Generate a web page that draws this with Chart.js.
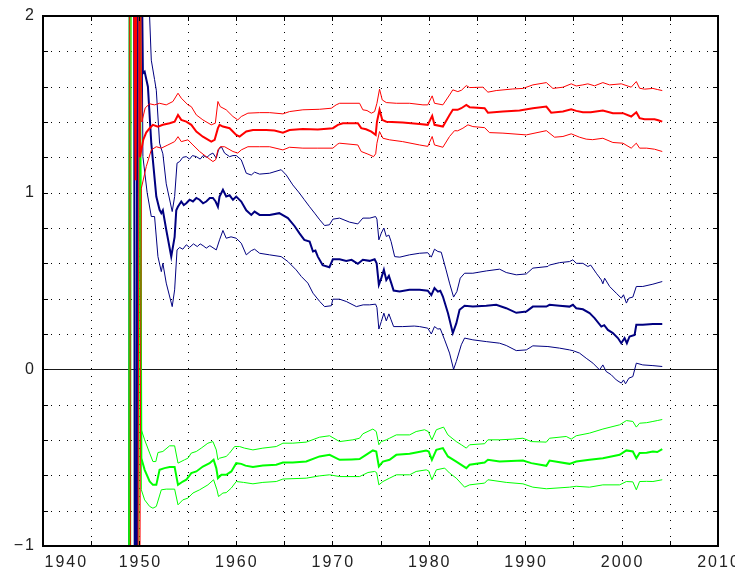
<!DOCTYPE html>
<html>
<head>
<meta charset="utf-8">
<script src="https://cdn.jsdelivr.net/npm/chart.js@4.4.0/dist/chart.umd.min.js"></script>
<style>
  html, body { margin: 0; padding: 0; background: #fff; }
  #wrap { width: 735px; height: 571px; }
</style>
</head>
<body>
<div id="wrap"><canvas id="c" width="735" height="571"></canvas></div>
<script>
// ---- tick labels ----
const xTickValues = [1940, 1950, 1960, 1970, 1980, 1990, 2000, 2010];
const xTickLabels = ['1940', '1950', '1960', '1970', '1980', '1990', '2000', '2010'];
const yTickValues = [-1, 0, 1, 2];
const yTickLabels = ['\u22121', '0', '1', '2'];
const xGridValues = [1945, 1950, 1955, 1960, 1965, 1970, 1975, 1980, 1985, 1990, 1995, 2000, 2005];
const yGridValues = [-0.8, -0.6, -0.4, -0.2, 0.2, 0.4, 0.6, 0.8, 1.0, 1.2, 1.4, 1.6, 1.8];

// ---- series: [year, value] ----
const navyMid = [[1949.35,8],[1949.6,-6],[1949.85,6],[1950.1,3.0],
[1950.36,1.676],[1950.54,1.685],[1950.88,1.60],[1951.23,1.28],[1951.75,0.978],[1952.09,0.903],[1952.27,0.884],[1952.43,0.90],[1952.78,0.79],[1953.3,0.638],[1953.65,0.75],[1953.82,0.90],[1953.99,0.92],[1954.34,0.95],[1954.6,0.93],[1954.86,0.94],[1955.2,0.96],[1955.55,0.95],[1955.9,0.97],[1956.24,0.96],[1956.6,0.94],[1956.93,0.95],[1957.3,0.97],[1957.62,0.97],[1957.9,0.95],[1958.14,0.92],[1958.31,0.978],[1958.66,1.016],[1959.0,0.978],[1959.35,0.985],[1959.7,0.96],[1960.04,0.978],[1960.56,0.95],[1961.08,0.90],[1961.6,0.874],[1961.94,0.893],[1962.46,0.874],[1963.5,0.874],[1964.5,0.884],[1965.4,0.856],[1966.1,0.81],[1966.6,0.77],[1967.1,0.733],[1967.65,0.723],[1968.0,0.667],[1968.25,0.672],[1968.5,0.638],[1969.0,0.59],[1969.7,0.578],[1970.06,0.623],[1970.76,0.623],[1971.45,0.614],[1972.0,0.62],[1972.65,0.597],[1973.17,0.62],[1973.87,0.614],[1974.39,0.623],[1974.6,0.60],[1974.83,0.478],[1975.08,0.516],[1975.35,0.563],[1975.6,0.506],[1975.87,0.529],[1976.1,0.491],[1976.36,0.446],[1976.98,0.44],[1978.0,0.45],[1979.05,0.45],[1979.9,0.445],[1980.27,0.42],[1980.6,0.46],[1980.95,0.44],[1981.2,0.445],[1981.47,0.412],[1982.0,0.318],[1982.5,0.205],[1982.86,0.26],[1983.2,0.337],[1983.72,0.36],[1984.58,0.355],[1985.97,0.36],[1987.0,0.365],[1988.04,0.346],[1989.08,0.32],[1990.12,0.327],[1990.8,0.355],[1992.2,0.355],[1992.53,0.365],[1993.57,0.36],[1994.6,0.355],[1994.95,0.365],[1995.3,0.346],[1995.99,0.34],[1996.68,0.318],[1997.2,0.29],[1997.9,0.242],[1998.2,0.25],[1998.58,0.223],[1999.1,0.205],[1999.62,0.177],[1999.97,0.148],[2000.31,0.177],[2000.55,0.148],[2000.83,0.186],[2001.35,0.195],[2001.53,0.252],[2002.2,0.252],[2003.25,0.256],[2004.22,0.257]];

const navyUpper = [[1948.8,-6],[1949.05,8],[1950.7,2.5],[1951.23,1.75],[1951.57,1.64],[1951.75,1.58],[1952.09,1.28],[1952.43,1.22],[1952.78,1.05],[1953.4,0.893],[1953.65,0.978],[1953.9,1.167],[1954.17,1.176],[1954.5,1.20],[1954.86,1.204],[1955.2,1.19],[1955.5,1.21],[1955.9,1.204],[1956.3,1.19],[1956.6,1.21],[1957.0,1.20],[1957.3,1.215],[1957.62,1.224],[1957.97,1.195],[1958.2,1.242],[1958.5,1.26],[1958.83,1.224],[1959.35,1.204],[1959.7,1.21],[1960.04,1.21],[1960.56,1.186],[1961.08,1.11],[1961.6,1.10],[1961.94,1.116],[1962.46,1.105],[1963.5,1.11],[1964.7,1.13],[1965.23,1.10],[1965.9,1.044],[1966.6,0.997],[1967.1,0.96],[1967.65,0.92],[1968.17,0.884],[1968.7,0.846],[1969.2,0.814],[1969.7,0.818],[1970.06,0.85],[1970.76,0.856],[1971.8,0.833],[1972.65,0.823],[1973.17,0.856],[1973.9,0.856],[1974.49,0.865],[1974.63,0.85],[1974.83,0.733],[1975.08,0.771],[1975.35,0.80],[1975.6,0.752],[1975.87,0.76],[1976.1,0.723],[1976.47,0.638],[1977.0,0.635],[1978.0,0.648],[1979.05,0.657],[1979.9,0.66],[1980.27,0.635],[1980.6,0.68],[1980.95,0.667],[1981.3,0.663],[1981.8,0.563],[1982.16,0.488],[1982.58,0.409],[1982.92,0.44],[1983.27,0.516],[1983.72,0.544],[1984.58,0.544],[1985.97,0.557],[1987.35,0.567],[1988.04,0.548],[1989.08,0.535],[1990.12,0.54],[1990.8,0.573],[1992.36,0.582],[1992.5,0.59],[1993.57,0.604],[1994.6,0.61],[1994.95,0.62],[1995.3,0.60],[1995.99,0.60],[1996.5,0.582],[1996.8,0.59],[1997.38,0.544],[1997.9,0.506],[1998.06,0.484],[1998.24,0.516],[1998.76,0.469],[1999.45,0.431],[1999.97,0.403],[2000.2,0.422],[2000.5,0.375],[2000.76,0.403],[2001.17,0.409],[2001.53,0.469],[2002.2,0.469],[2003.25,0.482],[2004.22,0.497]];

const navyLower = [[1948.9,7],[1949.15,-7],[1949.7,-5],[1949.95,5],[1950.36,1.204],[1950.8,1.0],[1951.23,0.865],[1951.57,0.865],[1951.92,0.638],[1952.27,0.553],[1952.43,0.60],[1952.78,0.488],[1953.4,0.355],[1953.65,0.45],[1953.9,0.676],[1954.17,0.69],[1954.5,0.68],[1954.86,0.705],[1955.2,0.69],[1955.6,0.71],[1956.0,0.695],[1956.3,0.71],[1956.6,0.70],[1956.93,0.686],[1957.3,0.70],[1957.97,0.676],[1958.31,0.733],[1958.66,0.786],[1959.0,0.742],[1959.5,0.75],[1960.04,0.742],[1960.56,0.714],[1961.08,0.648],[1961.6,0.672],[1961.94,0.68],[1962.46,0.657],[1963.5,0.648],[1964.7,0.638],[1965.4,0.61],[1966.25,0.563],[1966.8,0.525],[1967.47,0.488],[1968.0,0.431],[1968.7,0.384],[1969.2,0.355],[1969.9,0.36],[1970.06,0.397],[1970.76,0.397],[1971.45,0.384],[1972.5,0.355],[1973.2,0.365],[1973.87,0.365],[1974.49,0.369],[1974.63,0.35],[1974.83,0.228],[1975.08,0.27],[1975.35,0.318],[1975.6,0.274],[1975.87,0.314],[1976.1,0.28],[1976.36,0.242],[1977.3,0.242],[1978.5,0.245],[1979.05,0.242],[1979.9,0.233],[1980.27,0.20],[1980.6,0.242],[1980.95,0.228],[1981.2,0.23],[1981.65,0.167],[1982.16,0.092],[1982.58,0.0],[1982.86,0.044],[1983.38,0.139],[1983.72,0.177],[1984.58,0.167],[1985.97,0.157],[1987.35,0.148],[1988.04,0.135],[1989.08,0.106],[1990.12,0.11],[1990.8,0.133],[1992.36,0.129],[1993.57,0.12],[1994.6,0.11],[1995.0,0.105],[1995.64,0.092],[1996.33,0.063],[1997.03,0.035],[1997.72,-0.003],[1998.06,0.025],[1998.4,-0.012],[1998.93,-0.031],[1999.45,-0.06],[1999.97,-0.078],[2000.2,-0.06],[2000.41,-0.082],[2000.76,-0.05],[2001.17,-0.041],[2001.53,0.035],[2002.2,0.025],[2003.25,0.021],[2004.22,0.016]];

const redMid = [[1949.2,4],[1949.6,1.07],[1949.88,5],[1950.05,1.2],[1950.4,1.30],[1950.7,1.34],[1951.06,1.365],[1951.4,1.384],[1951.92,1.374],[1952.43,1.384],[1953.13,1.393],[1953.65,1.402],[1954.0,1.44],[1954.34,1.412],[1954.86,1.402],[1955.38,1.384],[1955.9,1.346],[1956.58,1.317],[1957.45,1.289],[1957.8,1.299],[1958.14,1.365],[1958.31,1.384],[1958.66,1.374],[1959.35,1.365],[1960.04,1.327],[1960.39,1.317],[1961.08,1.346],[1961.77,1.355],[1963.15,1.355],[1964.0,1.352],[1964.88,1.34],[1965.57,1.355],[1966.95,1.361],[1968.5,1.358],[1970.06,1.365],[1970.58,1.384],[1971.1,1.393],[1972.65,1.393],[1973.0,1.365],[1973.5,1.359],[1974.05,1.345],[1974.5,1.327],[1974.63,1.40],[1974.9,1.469],[1975.18,1.412],[1975.6,1.402],[1977.3,1.397],[1979.05,1.388],[1979.9,1.384],[1980.36,1.435],[1980.6,1.384],[1981.47,1.374],[1982.16,1.44],[1982.5,1.469],[1983.0,1.469],[1983.38,1.478],[1983.9,1.497],[1984.24,1.484],[1985.8,1.478],[1986.14,1.453],[1987.7,1.459],[1989.42,1.465],[1990.8,1.478],[1992.2,1.487],[1992.7,1.453],[1993.92,1.459],[1994.78,1.472],[1995.3,1.463],[1995.99,1.455],[1996.8,1.455],[1998.06,1.465],[1999.1,1.45],[2000.14,1.45],[2001.0,1.431],[2001.53,1.455],[2001.87,1.422],[2002.39,1.416],[2003.42,1.416],[2003.8,1.41],[2004.22,1.402]];

const redUpper = [[1948.9,6],[1949.15,-5],[1949.8,-3],[1950.0,3],[1950.25,1.40],[1950.6,1.48],[1951.06,1.503],[1951.57,1.497],[1952.09,1.506],[1952.78,1.497],[1953.47,1.516],[1954.0,1.563],[1954.34,1.535],[1955.03,1.497],[1955.38,1.487],[1955.9,1.44],[1956.58,1.412],[1957.45,1.384],[1957.87,1.393],[1958.14,1.516],[1958.38,1.487],[1959.0,1.469],[1959.7,1.431],[1960.2,1.412],[1960.56,1.431],[1961.25,1.45],[1962.46,1.453],[1963.5,1.453],[1964.88,1.446],[1965.57,1.459],[1966.95,1.469],[1968.68,1.472],[1969.9,1.478],[1970.4,1.497],[1970.76,1.506],[1972.83,1.506],[1973.17,1.469],[1973.6,1.465],[1974.05,1.45],[1974.39,1.459],[1974.63,1.506],[1974.9,1.586],[1975.18,1.525],[1975.6,1.51],[1976.64,1.506],[1978.0,1.506],[1979.4,1.497],[1979.9,1.497],[1980.36,1.548],[1980.6,1.506],[1981.47,1.497],[1982.16,1.553],[1982.5,1.582],[1983.02,1.572],[1983.4,1.58],[1983.9,1.606],[1984.24,1.595],[1985.62,1.597],[1986.14,1.569],[1987.0,1.578],[1988.73,1.587],[1989.77,1.59],[1990.8,1.61],[1992.2,1.623],[1992.88,1.59],[1993.92,1.597],[1994.78,1.616],[1995.3,1.604],[1995.99,1.61],[1996.5,1.616],[1997.2,1.605],[1998.06,1.623],[1998.76,1.61],[1999.97,1.616],[2001.0,1.597],[2001.53,1.629],[2001.87,1.591],[2002.39,1.586],[2003.25,1.59],[2003.7,1.584],[2004.22,1.578]];

const redLower = [[1949.85,-4],[1950.2,1.025],[1950.71,1.148],[1951.23,1.242],[1951.75,1.26],[1952.27,1.252],[1952.95,1.27],[1953.65,1.289],[1954.0,1.317],[1954.34,1.289],[1955.03,1.299],[1955.55,1.27],[1956.24,1.233],[1956.93,1.204],[1957.62,1.176],[1957.9,1.186],[1958.14,1.242],[1958.38,1.26],[1958.83,1.26],[1959.7,1.233],[1960.2,1.224],[1960.56,1.242],[1961.25,1.26],[1962.46,1.26],[1963.5,1.26],[1964.88,1.242],[1965.57,1.257],[1966.95,1.252],[1968.5,1.252],[1970.06,1.252],[1970.58,1.276],[1970.76,1.28],[1972.65,1.27],[1973.0,1.233],[1973.7,1.218],[1974.28,1.204],[1974.5,1.22],[1974.63,1.28],[1974.9,1.346],[1975.25,1.308],[1975.94,1.299],[1977.3,1.289],[1979.05,1.27],[1979.9,1.262],[1980.36,1.318],[1980.6,1.27],[1981.47,1.257],[1982.16,1.318],[1982.68,1.351],[1983.0,1.35],[1983.55,1.365],[1984.07,1.384],[1984.58,1.374],[1985.8,1.368],[1986.3,1.34],[1987.7,1.337],[1990.12,1.327],[1992.2,1.351],[1993.05,1.314],[1993.92,1.318],[1994.78,1.333],[1995.64,1.314],[1996.33,1.303],[1997.0,1.30],[1998.06,1.308],[1999.1,1.284],[2000.14,1.28],[2001.0,1.252],[2001.53,1.28],[2001.87,1.252],[2002.6,1.252],[2003.42,1.246],[2004.22,1.233]];

const greenMid = [[1948.85,-6],[1949.05,6],[1949.9,4],[1950.2,-0.503],[1950.54,-0.569],[1951.06,-0.635],[1951.4,-0.654],[1951.75,-0.654],[1952.09,-0.569],[1952.6,-0.559],[1953.13,-0.553],[1953.65,-0.553],[1954.0,-0.654],[1954.5,-0.635],[1954.86,-0.625],[1955.38,-0.587],[1955.9,-0.578],[1956.58,-0.55],[1957.28,-0.531],[1957.69,-0.512],[1957.97,-0.559],[1958.14,-0.616],[1958.5,-0.597],[1959.0,-0.597],[1959.53,-0.578],[1960.04,-0.531],[1960.56,-0.535],[1961.0,-0.545],[1961.77,-0.553],[1962.8,-0.545],[1964.19,-0.54],[1964.88,-0.527],[1965.9,-0.527],[1967.3,-0.522],[1968.68,-0.493],[1969.72,-0.484],[1970.76,-0.512],[1972.0,-0.51],[1972.83,-0.508],[1973.5,-0.484],[1974.21,-0.459],[1974.56,-0.465],[1974.83,-0.55],[1975.25,-0.522],[1975.94,-0.512],[1976.64,-0.484],[1978.02,-0.478],[1978.7,-0.471],[1979.74,-0.459],[1980.0,-0.465],[1980.33,-0.512],[1980.79,-0.456],[1981.47,-0.446],[1981.99,-0.493],[1982.86,-0.522],[1983.9,-0.559],[1984.24,-0.54],[1985.8,-0.527],[1986.14,-0.512],[1987.35,-0.522],[1989.77,-0.516],[1990.64,-0.531],[1992.2,-0.546],[1992.53,-0.516],[1994.6,-0.535],[1995.3,-0.522],[1996.68,-0.512],[1998.06,-0.503],[1999.8,-0.484],[2000.5,-0.459],[2001.17,-0.465],[2001.53,-0.503],[2001.87,-0.474],[2002.6,-0.472],[2003.25,-0.465],[2003.7,-0.468],[2004.22,-0.452]];

const greenUpper = [[1949.0,-6],[1949.2,5],[1950.0,5],[1950.2,-0.342],[1950.54,-0.399],[1951.06,-0.474],[1951.4,-0.522],[1951.7,-0.522],[1951.92,-0.471],[1952.43,-0.465],[1953.13,-0.433],[1953.65,-0.433],[1954.0,-0.531],[1954.68,-0.512],[1955.03,-0.503],[1955.38,-0.474],[1955.9,-0.465],[1956.41,-0.446],[1957.1,-0.418],[1957.62,-0.409],[1957.97,-0.456],[1958.14,-0.512],[1958.31,-0.503],[1959.0,-0.493],[1959.35,-0.474],[1959.87,-0.437],[1960.39,-0.437],[1960.9,-0.446],[1961.77,-0.456],[1962.8,-0.446],[1964.19,-0.437],[1964.88,-0.418],[1965.9,-0.418],[1967.3,-0.412],[1968.68,-0.384],[1969.72,-0.376],[1970.76,-0.409],[1972.14,-0.399],[1972.83,-0.39],[1973.17,-0.365],[1974.21,-0.338],[1974.56,-0.352],[1974.83,-0.427],[1975.08,-0.409],[1975.6,-0.399],[1975.94,-0.39],[1976.64,-0.371],[1978.02,-0.371],[1978.7,-0.352],[1979.57,-0.342],[1979.95,-0.352],[1980.33,-0.399],[1980.79,-0.342],[1981.54,-0.327],[1981.99,-0.371],[1982.86,-0.409],[1983.38,-0.427],[1983.9,-0.446],[1984.24,-0.427],[1985.8,-0.421],[1986.14,-0.399],[1987.35,-0.399],[1988.73,-0.395],[1989.77,-0.39],[1990.64,-0.409],[1992.2,-0.412],[1992.53,-0.39],[1994.26,-0.38],[1994.78,-0.395],[1995.3,-0.376],[1996.68,-0.361],[1998.06,-0.338],[1999.8,-0.314],[2000.5,-0.29],[2001.17,-0.295],[2001.53,-0.327],[2001.87,-0.305],[2002.6,-0.302],[2003.25,-0.295],[2003.7,-0.29],[2004.22,-0.284]];

const greenLower = [[1949.85,-6],[1950.05,3],[1950.2,-0.682],[1950.54,-0.739],[1951.06,-0.776],[1951.4,-0.786],[1951.75,-0.776],[1952.27,-0.682],[1952.78,-0.678],[1953.65,-0.678],[1954.0,-0.767],[1954.5,-0.739],[1955.03,-0.729],[1955.55,-0.70],[1956.24,-0.682],[1957.1,-0.654],[1957.69,-0.625],[1958.04,-0.682],[1958.2,-0.72],[1958.66,-0.70],[1959.0,-0.698],[1959.53,-0.672],[1960.04,-0.635],[1960.8,-0.64],[1961.77,-0.648],[1962.8,-0.64],[1964.19,-0.635],[1964.88,-0.621],[1967.3,-0.616],[1968.68,-0.603],[1969.72,-0.597],[1970.76,-0.607],[1972.83,-0.607],[1973.7,-0.584],[1974.39,-0.578],[1974.6,-0.585],[1974.83,-0.654],[1975.25,-0.635],[1975.94,-0.616],[1976.64,-0.597],[1978.02,-0.597],[1978.7,-0.578],[1979.74,-0.569],[1980.0,-0.575],[1980.33,-0.625],[1980.79,-0.569],[1981.65,-0.559],[1982.16,-0.587],[1982.86,-0.616],[1983.72,-0.667],[1984.24,-0.654],[1985.8,-0.644],[1986.14,-0.625],[1988.04,-0.64],[1989.77,-0.648],[1990.8,-0.667],[1992.2,-0.676],[1994.6,-0.667],[1995.3,-0.662],[1996.68,-0.667],[1998.06,-0.654],[1999.8,-0.654],[2000.5,-0.635],[2001.17,-0.637],[2001.53,-0.682],[2001.87,-0.635],[2002.6,-0.634],[2003.25,-0.635],[2004.22,-0.625]];

const RED = '#ff0000', NAVY = '#000080', GREEN = '#00ff00';

function toXY(arr) { return arr.map(p => ({ x: p[0], y: p[1] })); }
function ds(arr, color, width) {
  return { data: toXY(arr), borderColor: color, borderWidth: width, pointRadius: 0, tension: 0, fill: false };
}

const axisPlugin = {
  id: 'axisPlugin',
  beforeDatasetsDraw(chart) {
    const { ctx, chartArea: a, scales: { x, y } } = chart;
    ctx.save();
    ctx.strokeStyle = '#000';
    ctx.lineWidth = 1;
    ctx.setLineDash([1, 7]);
    ctx.beginPath();
    for (const v of xGridValues) {
      const px = Math.round(x.getPixelForValue(v)) + 0.5;
      ctx.moveTo(px, a.top); ctx.lineTo(px, a.bottom);
    }
    for (const v of yGridValues) {
      const py = Math.round(y.getPixelForValue(v)) + 0.5;
      ctx.moveTo(a.left, py); ctx.lineTo(a.right, py);
    }
    ctx.stroke();
    ctx.setLineDash([]);
    ctx.strokeStyle = '#1a1a1a';
    ctx.beginPath();
    const pz = Math.round(y.getPixelForValue(0)) + 0.5;
    ctx.moveTo(a.left, pz); ctx.lineTo(a.right, pz);
    ctx.stroke();
    ctx.restore();
  },
  afterDatasetsDraw(chart) {
    const { ctx, chartArea: a, scales: { x, y } } = chart;
    ctx.save();
    ctx.strokeStyle = '#000';
    ctx.lineWidth = 1;
    ctx.beginPath();
    const tl = 5;
    for (const v of xGridValues) {
      const px = Math.round(x.getPixelForValue(v)) + 0.5;
      ctx.moveTo(px, a.bottom); ctx.lineTo(px, a.bottom - tl);
      ctx.moveTo(px, a.top); ctx.lineTo(px, a.top + tl);
    }
    for (const v of yGridValues.concat([0])) {
      const py = Math.round(y.getPixelForValue(v)) + 0.5;
      ctx.moveTo(a.left, py); ctx.lineTo(a.left + tl, py);
      ctx.moveTo(a.right, py); ctx.lineTo(a.right - tl, py);
    }
    ctx.stroke();
    ctx.lineWidth = 2;
    ctx.strokeRect(a.left, a.top, a.right - a.left, a.bottom - a.top);
    ctx.restore();
  },
  afterDraw(chart) {
    const { ctx, chartArea: a, scales: { x, y } } = chart;
    ctx.save();
    ctx.fillStyle = '#222';
    ctx.font = '16px "Liberation Sans", Arial, sans-serif';
    try { ctx.letterSpacing = '2px'; } catch (e) {}
    ctx.textBaseline = 'middle';
    xTickValues.forEach((v, i) => {
      const px = x.getPixelForValue(v);
      if (i === 0) { ctx.textAlign = 'left'; ctx.fillText(xTickLabels[i], px + 1.5, 563); }
      else { ctx.textAlign = 'center'; ctx.fillText(xTickLabels[i], px + 1, 563); }
    });
    ctx.textAlign = 'right';
    yTickValues.forEach((v, i) => {
      const py = y.getPixelForValue(v);
      ctx.fillText(yTickLabels[i], 36, py);
    });
    ctx.restore();
  }
};

new Chart(document.getElementById('c'), {
  type: 'line',
  data: {
    datasets: [
      ds(redUpper, RED, 1), ds(redLower, RED, 1), ds(redMid, RED, 2),
      ds(greenUpper, GREEN, 1), ds(greenLower, GREEN, 1), ds(greenMid, GREEN, 2),
      ds(navyUpper, NAVY, 1), ds(navyLower, NAVY, 1), ds(navyMid, NAVY, 2)
    ]
  },
  options: {
    responsive: false,
    animation: false,
    events: [],
    layout: { padding: { left: 43, right: 17, top: 16, bottom: 25 } },
    plugins: { legend: { display: false }, tooltip: { enabled: false }, title: { display: false } },
    scales: {
      x: { type: 'linear', min: 1940, max: 2010, display: false },
      y: { type: 'linear', min: -1, max: 2, display: false }
    }
  },
  plugins: [axisPlugin]
});
</script>
</body>
</html>
